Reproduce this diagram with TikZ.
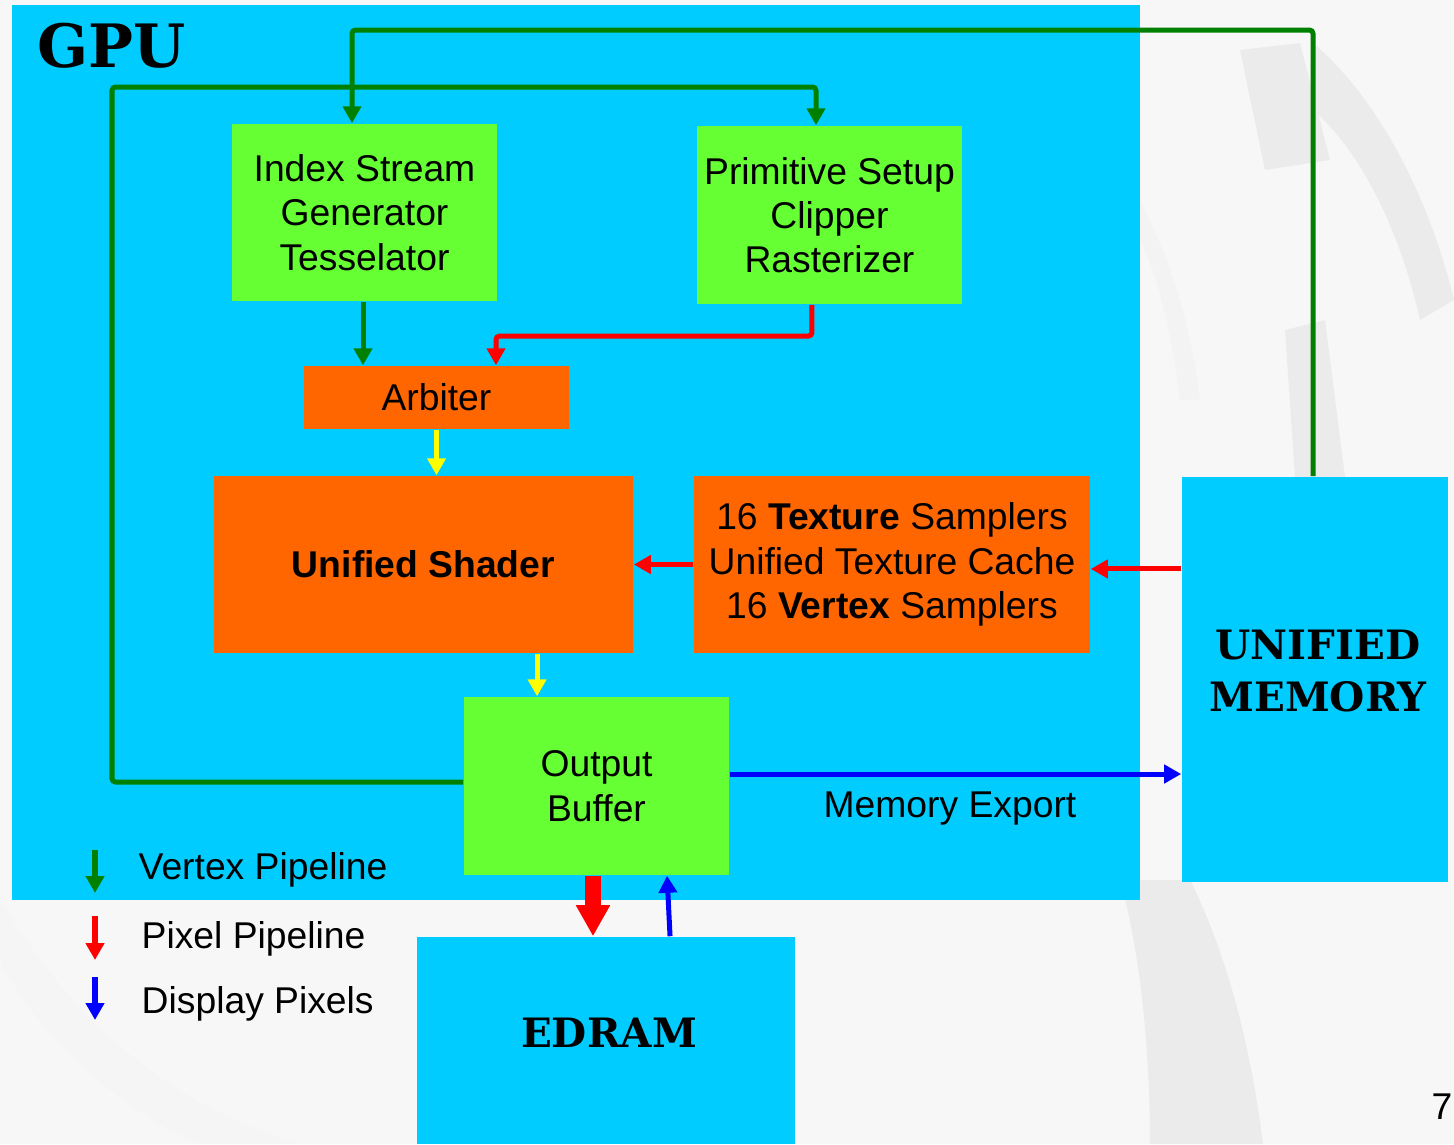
\documentclass[tikz,border=0pt]{standalone}
\usepackage{fontspec}
\setmainfont{Liberation Sans}
\newfontfamily\stencilfont{DejaVu Serif}
\usetikzlibrary{arrows.meta}
\definecolor{cyanbox}{HTML}{00CCFF}
\definecolor{limebox}{HTML}{66FF33}
\definecolor{orangebox}{HTML}{FF6600}
\definecolor{vgreen}{HTML}{008000}
\definecolor{pyellow}{HTML}{FFFF00}
\definecolor{bgpaper}{HTML}{F7F7F7}
\definecolor{swirl}{HTML}{EBEBEB}
\begin{document}
\begin{tikzpicture}[x=0.01cm,y=-0.01cm,
  box/.style={draw=none,inner sep=0pt,align=center,font=\fontsize{10.6}{12.6}\selectfont},
  limeblk/.style={box,fill=limebox},
  orangeblk/.style={box,fill=orangebox},
  cyanblk/.style={box,fill=cyanbox},
  stencil/.style={font=\stencilfont\bfseries\fontsize{11.5}{14.8}\selectfont,align=center},
  lbl/.style={font=\fontsize{10.6}{12.6}\selectfont,inner sep=0pt},
  conn/.style={line width=0.05cm,-{Triangle[length=0.17cm,width=0.18cm]}},
  vconn/.style={conn,draw=vgreen},
  pconn/.style={conn,draw=red},
  yconn/.style={conn,draw=pyellow},
  bconn/.style={conn,draw=blue},
]
% page background and faint watermark
\fill[bgpaper] (0,0) rectangle (1454,1144);
\useasboundingbox (0,0) rectangle (1454,1144);
\fill[swirl] (1240,50) -- (1300,43) -- (1330,160) -- (1265,170) -- cycle;
\fill[swirl] (1313,43) .. controls (1380,100) and (1430,200) .. (1454,300) -- (1420,320) .. controls (1400,230) and (1360,150) .. (1313,110) -- cycle;
\fill[swirl] (1285,330) -- (1325,320) -- (1345,477) -- (1295,477) -- cycle;
\fill[swirl] (1120,880) .. controls (1140,950) and (1150,1050) .. (1150,1144) -- (1263,1144) .. controls (1250,1040) and (1225,950) .. (1190,880) -- cycle;
\fill[swirl!60!white] (1140,200) .. controls (1170,260) and (1190,320) .. (1200,400) -- (1180,400) .. controls (1170,320) and (1155,270) .. (1140,240) -- cycle;
\fill[swirl!50!white] (0,900) .. controls (60,1000) and (150,1100) .. (300,1144) -- (200,1144) .. controls (100,1100) and (30,1020) .. (0,960) -- cycle;

% GPU region
\node[cyanblk,minimum width=11.28cm,minimum height=8.95cm] (gpu) at (576,452.5) {};
\node[anchor=base west,inner sep=0pt,font=\stencilfont\bfseries\fontsize{17}{20}\selectfont] (gputitle) at (37,67) {GPU};

% blocks
\node[limeblk,minimum width=2.65cm,minimum height=1.77cm] (isg) at (364.5,212.5) {Index Stream\\Generator\\Tesselator};
\node[limeblk,minimum width=2.65cm,minimum height=1.78cm] (ps) at (829.5,215) {Primitive Setup\\Clipper\\Rasterizer};
\node[orangeblk,minimum width=2.65cm,minimum height=0.63cm] (arb) at (436.5,397.5) {Arbiter};
\node[orangeblk,minimum width=4.19cm,minimum height=1.77cm,font=\bfseries\fontsize{10.6}{12.6}\selectfont] (us) at (423.5,564.5) {Unified Shader};
\node[orangeblk,minimum width=3.96cm,minimum height=1.77cm] (tex) at (892,564.5) {16 \textbf{Texture} Samplers\\Unified Texture Cache\\16 \textbf{Vertex} Samplers};
\node[limeblk,minimum width=2.65cm,minimum height=1.78cm] (ob) at (596.5,786) {Output\\Buffer};
\node[cyanblk,minimum width=2.66cm,minimum height=4.05cm] (um) at (1315,679.5) {};
\node[stencil] (umtext) at (1318,671) {UNIFIED\\MEMORY};
\node[cyanblk,minimum width=3.78cm,minimum height=2.07cm] (ed) at (606,1040.5) {};
\node[stencil] (edtext) at (609,1033) {EDRAM};
\node[lbl] (memexp) at (950,809) {Memory Export};
\node[lbl,anchor=east] (seven) at (1453,1107) {7};

% routing points
\coordinate (c1) at (352,30);
\coordinate (c2) at (112,87);
\coordinate (c3) at (816,87);
\coordinate (c4) at (496,336);

% connectors
\draw[vconn,rounded corners=1pt] ([xshift=-0.02cm]um.north) |- (c1) -- (c1 |- isg.north);
\draw[vconn,rounded corners=1pt] ([yshift=0.04cm]ob.west) -| (c2) -- (c3) -- (c3 |- ps.north);
\draw[vconn] ([xshift=-0.015cm]isg.south) -- ([xshift=-0.015cm]isg.south |- arb.north);
\draw[pconn,rounded corners=1pt] ([xshift=-0.175cm]ps.south) |- (c4) -- (c4 |- arb.north);
\draw[yconn] (arb.south) -- (arb.south |- us.north);
\draw[pconn] (tex.west) -- (us.east);
\draw[pconn] ([yshift=1.105cm]um.west) -- ([yshift=1.105cm]um.west -| tex.east);
\draw[yconn] ([xshift=1.135cm]us.south) -- ([xshift=1.135cm]us.south |- ob.north);
\draw[bconn] ([yshift=0.12cm]ob.east) -- ([yshift=0.12cm]ob.east -| um.west);
\draw[red,line width=0.16cm,-{Triangle[length=0.31cm,width=0.32cm]}] ([xshift=-0.035cm]ob.south) -- ([xshift=-0.035cm]ob.south |- ed.north);
\draw[bconn] ([xshift=0.64cm]ed.north) -- ([xshift=0.705cm]ob.south);

% legend
\coordinate (lg1a) at (95,850); \coordinate (lg1b) at (95,893);
\coordinate (lg2a) at (95,916); \coordinate (lg2b) at (95,960);
\coordinate (lg3a) at (95,977); \coordinate (lg3b) at (95,1020);
\draw[vconn] (lg1a) -- (lg1b);
\draw[pconn] (lg2a) -- (lg2b);
\draw[bconn] (lg3a) -- (lg3b);
\node[lbl,anchor=west] (leg1) at (138,870) {Vertex Pipeline};
\node[lbl,anchor=west] (leg2) at (141,939) {Pixel Pipeline};
\node[lbl,anchor=west] (leg3) at (141,1004) {Display Pixels};
\end{tikzpicture}
\end{document}
